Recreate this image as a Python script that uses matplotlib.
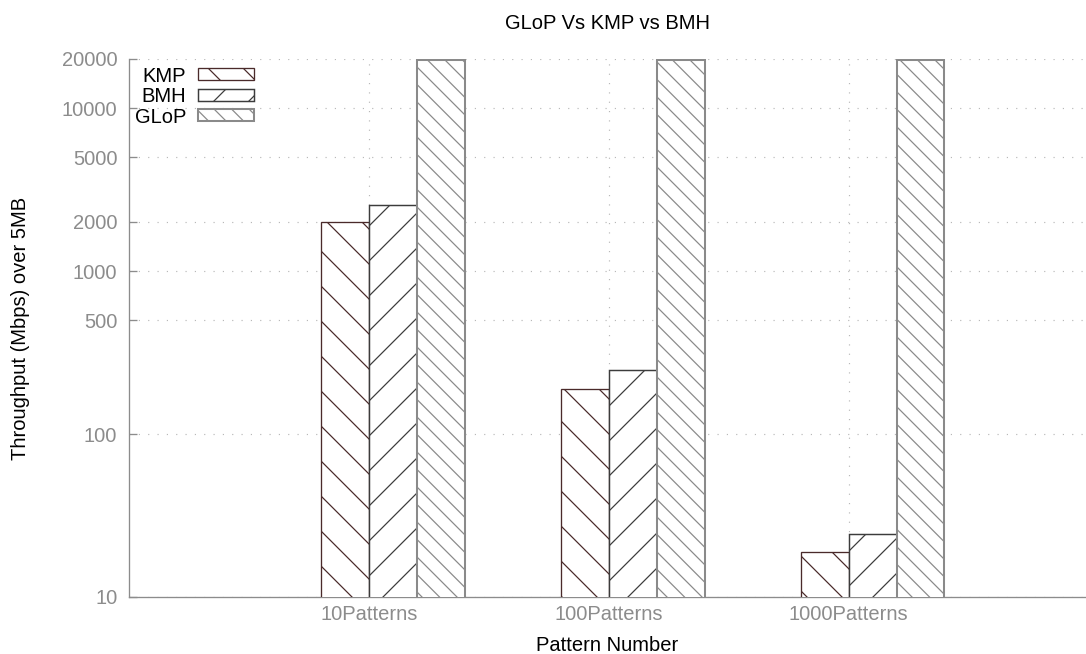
import numpy as np
import matplotlib
matplotlib.use("Agg")
import matplotlib.pyplot as plt

# throughput in Mbps
patterns = ["10Patterns", "100Patterns", "1000Patterns"]
kmp = [1990, 189, 18.8]
bmh = [2530, 248, 24.4]
glop = [19700, 19700, 19650]
yticks = [10, 100, 500, 1000, 2000, 5000, 10000, 20000]

DPI = 210
FS = 6.9  # ~20px text at this dpi

plt.rcParams['font.family'] = ['Liberation Sans', 'DejaVu Sans']
plt.rcParams['hatch.linewidth'] = 0.42

fig = plt.figure(figsize=(1086 / DPI, 654 / DPI), dpi=DPI)
ax = fig.add_axes([129 / 1086, 57 / 654, 957 / 1086, 538 / 654])

x = np.arange(len(patterns))
w = 0.2
ax.bar(x - w / 2, kmp, w, facecolor="white", edgecolor="#4a2a2a", hatch="\\\\", linewidth=0.45, label="KMP", zorder=3)
ax.bar(x + w / 2, bmh, w, facecolor="white", edgecolor="#3c3c3c", hatch="//", linewidth=0.5, label="BMH", zorder=3)
ax.bar(x + 3 * w / 2, glop, w, facecolor="white", edgecolor="#8a8a8a", hatch="\\\\\\\\", linewidth=0.7, label="GLoP", zorder=3)

ax.set_yscale("log")
ax.set_ylim(10, 20000)
ax.set_xlim(-1, 2.99)
ax.set_yticks(yticks)
ax.set_yticklabels([str(t) for t in yticks])
ax.yaxis.set_minor_locator(matplotlib.ticker.NullLocator())
ax.set_xticks(x)
ax.set_xticklabels(patterns)

for s in ["top", "right"]:
    ax.spines[s].set_visible(False)
for s in ["left", "bottom"]:
    ax.spines[s].set_color("#8c8c8c")
    ax.spines[s].set_linewidth(0.45)

ax.tick_params(axis="y", direction="in", length=2.7, width=0.45, color="#8c8c8c",
               labelcolor="#8c8c8c", labelsize=FS, pad=4.0)
ax.tick_params(axis="x", length=0, labelcolor="#8c8c8c", labelsize=FS, pad=2.7)

ax.grid(True, color="#b8b8b8", linestyle=(0, (1, 7)), linewidth=0.4, zorder=0)

ax.set_title("GLoP Vs KMP vs BMH", fontsize=FS, pad=10.3)
ax.set_xlabel("Pattern Number", fontsize=FS)
ax.set_ylabel("Throughput (Mbps) over 5MB", fontsize=FS)
ax.xaxis.set_label_coords(0.5, -0.072)
ax.yaxis.set_label_coords(-0.103, 0.5)

ax.legend(loc="upper left", bbox_to_anchor=(0.006, 0.986), frameon=False, fontsize=FS,
          markerfirst=False, handlelength=2.75, handleheight=0.53, handletextpad=0.6,
          labelspacing=0.075, borderpad=0, borderaxespad=0)

fig.savefig("out.png", dpi=DPI)
